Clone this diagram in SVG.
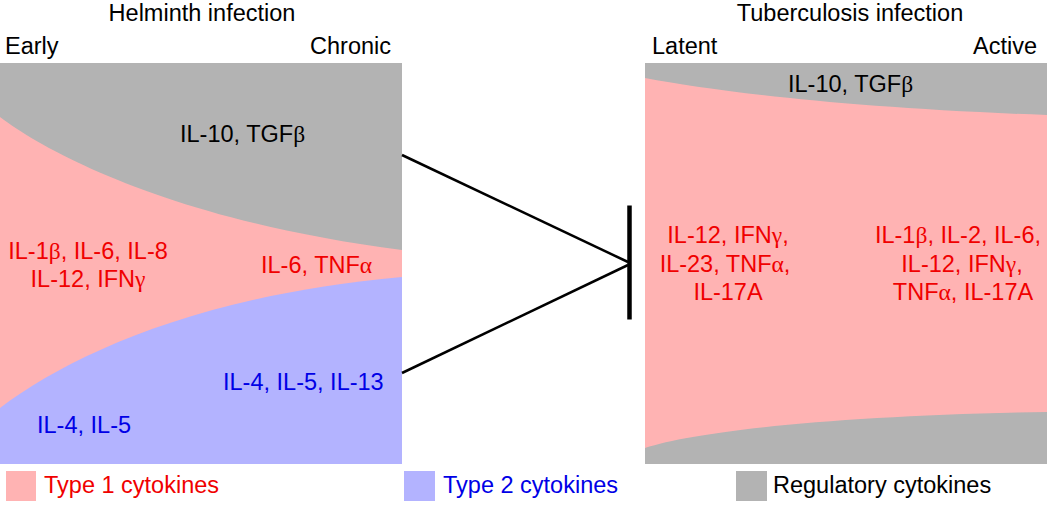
<svg xmlns="http://www.w3.org/2000/svg" width="1050" height="507" viewBox="0 0 1050 507">
<style>
text{font-family:"Liberation Sans",Arial,sans-serif;font-size:23.5px;fill:#000}
.r{fill:#F00000}
.b{fill:#0000E6}
.m{text-anchor:middle}
.e{text-anchor:end}
.g{font-family:"Liberation Serif","Times New Roman",serif}
.pk{fill:#FFB3B3}
.gy{fill:#B3B3B3}
.bl{fill:#B3B3FF}
.ln{stroke:#000;stroke-width:2.5;fill:none}
</style>
<rect width="1050" height="507" fill="#fff"/>
<g id="helminth">
<rect class="gy" x="0" y="63" width="402" height="401"/>
<path class="pk" d="M0,117 C50,155 180,222 402,250 L402,464 L0,464 Z"/>
<path class="bl" d="M0,408 C70,355 200,295 402,277 L402,464 L0,464 Z"/>
<text class="m" x="202" y="21">Helminth infection</text>
<text x="5" y="54">Early</text>
<text class="e" x="391" y="54">Chronic</text>
<text x="180" y="142">IL-10, TGF<tspan class="g">β</tspan></text>
<text class="r m" x="88" y="259">IL-1<tspan class="g">β</tspan>, IL-6, IL-8</text>
<text class="r m" x="88" y="287">IL-12, IFN<tspan class="g">γ</tspan></text>
<text class="r" x="261" y="273">IL-6, TNF<tspan class="g">α</tspan></text>
<text class="b" x="223" y="390">IL-4, IL-5, IL-13</text>
<text class="b" x="37" y="433">IL-4, IL-5</text>
</g>
<g id="tuberculosis">
<rect class="gy" x="645" y="63" width="402" height="401"/>
<path class="pk" d="M645,78 C720,92 850,108 1047,115 L1047,412 C850,415 700,430 645,448 Z"/>
<text class="m" x="850" y="21">Tuberculosis infection</text>
<text x="652" y="54">Latent</text>
<text class="e" x="1037" y="54">Active</text>
<text x="788" y="92">IL-10, TGF<tspan class="g">β</tspan></text>
<text class="r m" x="728" y="243">IL-12, IFN<tspan class="g">γ</tspan>,</text>
<text class="r m" x="725" y="272">IL-23, TNF<tspan class="g">α</tspan>,</text>
<text class="r m" x="728" y="300">IL-17A</text>
<text class="r m" x="958" y="243">IL-1<tspan class="g">β</tspan>, IL-2, IL-6,</text>
<text class="r m" x="962" y="272">IL-12, IFN<tspan class="g">γ</tspan>,</text>
<text class="r m" x="963" y="300">TNF<tspan class="g">α</tspan>, IL-17A</text>
</g>
<g id="connectors">
<line class="ln" x1="402" y1="155" x2="628" y2="262"/>
<line class="ln" x1="402" y1="373" x2="628" y2="265"/>
<line x1="629.5" y1="205.5" x2="629.5" y2="319.5" stroke="#000" stroke-width="4.5"/>
</g>
<g id="legend-type1">
<rect class="pk" x="6" y="471" width="30" height="30"/>
<text class="r" x="44" y="493">Type 1 cytokines</text>
</g>
<g id="legend-type2">
<rect class="bl" x="404" y="471" width="31" height="30"/>
<text class="b" x="443" y="493">Type 2 cytokines</text>
</g>
<g id="legend-regulatory">
<rect class="gy" x="736" y="471" width="31" height="30"/>
<text x="773" y="493">Regulatory cytokines</text>
</g>
</svg>
